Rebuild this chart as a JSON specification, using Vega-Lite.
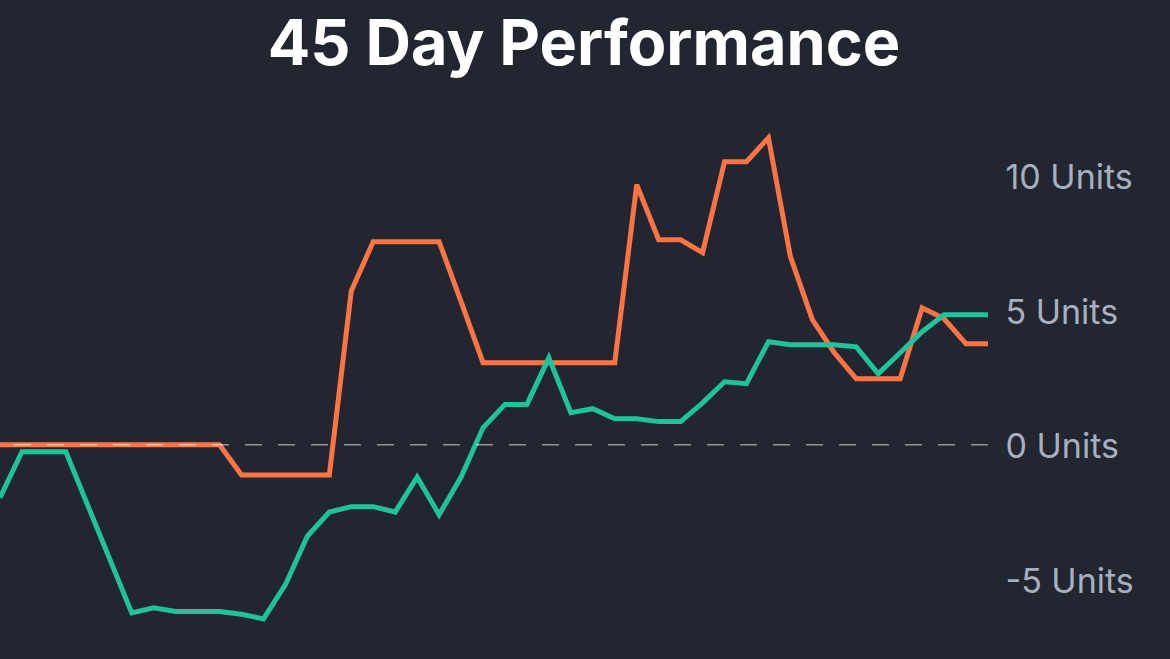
{
  "$schema": "https://vega.github.io/schema/vega-lite/v6.json",
  "width": 988,
  "height": 565,
  "autosize": {"type": "none"},
  "padding": {"left": 0, "top": 95, "right": 182, "bottom": 0},
  "background": "#222631",
  "title": {
    "text": "45 Day Performance",
    "font": "Inter",
    "fontWeight": 700,
    "fontSize": 63,
    "color": "#ffffff",
    "anchor": "middle",
    "dx": 90,
    "dy": 61,
    "offset": 28,
    "baseline": "alphabetic"
  },
  "config": {
    "view": {"stroke": null},
    "axis": {"grid": false, "domain": false, "ticks": false}
  },
  "datasets": {
    "perf": [
      {"day": 0, "series": "A", "value": 0}, {"day": 1, "series": "A", "value": 0}, {"day": 2, "series": "A", "value": 0},
      {"day": 3, "series": "A", "value": 0}, {"day": 4, "series": "A", "value": 0}, {"day": 5, "series": "A", "value": 0},
      {"day": 6, "series": "A", "value": 0}, {"day": 7, "series": "A", "value": 0}, {"day": 8, "series": "A", "value": 0},
      {"day": 9, "series": "A", "value": 0}, {"day": 10, "series": "A", "value": 0}, {"day": 11, "series": "A", "value": -1.12},
      {"day": 12, "series": "A", "value": -1.12}, {"day": 13, "series": "A", "value": -1.12}, {"day": 14, "series": "A", "value": -1.12},
      {"day": 15, "series": "A", "value": -1.12}, {"day": 16, "series": "A", "value": 5.72}, {"day": 17, "series": "A", "value": 7.55},
      {"day": 18, "series": "A", "value": 7.55}, {"day": 19, "series": "A", "value": 7.55}, {"day": 20, "series": "A", "value": 7.55},
      {"day": 21, "series": "A", "value": 5.32}, {"day": 22, "series": "A", "value": 3.05}, {"day": 23, "series": "A", "value": 3.05},
      {"day": 24, "series": "A", "value": 3.05}, {"day": 25, "series": "A", "value": 3.05}, {"day": 26, "series": "A", "value": 3.05},
      {"day": 27, "series": "A", "value": 3.05}, {"day": 28, "series": "A", "value": 3.05}, {"day": 29, "series": "A", "value": 9.67},
      {"day": 30, "series": "A", "value": 7.62}, {"day": 31, "series": "A", "value": 7.62}, {"day": 32, "series": "A", "value": 7.14},
      {"day": 33, "series": "A", "value": 10.52}, {"day": 34, "series": "A", "value": 10.52}, {"day": 35, "series": "A", "value": 11.41},
      {"day": 36, "series": "A", "value": 6.99}, {"day": 37, "series": "A", "value": 4.65}, {"day": 38, "series": "A", "value": 3.42},
      {"day": 39, "series": "A", "value": 2.45}, {"day": 40, "series": "A", "value": 2.45}, {"day": 41, "series": "A", "value": 2.45},
      {"day": 42, "series": "A", "value": 5.09}, {"day": 43, "series": "A", "value": 4.68}, {"day": 44, "series": "A", "value": 3.75},
      {"day": 45, "series": "A", "value": 3.75},
      {"day": 0, "series": "B", "value": -1.97}, {"day": 1, "series": "B", "value": -0.26}, {"day": 2, "series": "B", "value": -0.26},
      {"day": 3, "series": "B", "value": -0.26}, {"day": 4, "series": "B", "value": -2.26}, {"day": 5, "series": "B", "value": -4.25},
      {"day": 6, "series": "B", "value": -6.25}, {"day": 7, "series": "B", "value": -6.06}, {"day": 8, "series": "B", "value": -6.2},
      {"day": 9, "series": "B", "value": -6.2}, {"day": 10, "series": "B", "value": -6.2}, {"day": 11, "series": "B", "value": -6.3},
      {"day": 12, "series": "B", "value": -6.47}, {"day": 13, "series": "B", "value": -5.2}, {"day": 14, "series": "B", "value": -3.4},
      {"day": 15, "series": "B", "value": -2.5}, {"day": 16, "series": "B", "value": -2.3}, {"day": 17, "series": "B", "value": -2.3},
      {"day": 18, "series": "B", "value": -2.5}, {"day": 19, "series": "B", "value": -1.2}, {"day": 20, "series": "B", "value": -2.6},
      {"day": 21, "series": "B", "value": -1.2}, {"day": 22, "series": "B", "value": 0.63}, {"day": 23, "series": "B", "value": 1.5},
      {"day": 24, "series": "B", "value": 1.5}, {"day": 25, "series": "B", "value": 3.23}, {"day": 26, "series": "B", "value": 1.19},
      {"day": 27, "series": "B", "value": 1.34}, {"day": 28, "series": "B", "value": 0.97}, {"day": 29, "series": "B", "value": 0.97},
      {"day": 30, "series": "B", "value": 0.86}, {"day": 31, "series": "B", "value": 0.86}, {"day": 32, "series": "B", "value": 1.56},
      {"day": 33, "series": "B", "value": 2.34}, {"day": 34, "series": "B", "value": 2.27}, {"day": 35, "series": "B", "value": 3.83},
      {"day": 36, "series": "B", "value": 3.72}, {"day": 37, "series": "B", "value": 3.72}, {"day": 38, "series": "B", "value": 3.72},
      {"day": 39, "series": "B", "value": 3.64}, {"day": 40, "series": "B", "value": 2.64}, {"day": 41, "series": "B", "value": 3.42},
      {"day": 42, "series": "B", "value": 4.2}, {"day": 43, "series": "B", "value": 4.83}, {"day": 44, "series": "B", "value": 4.83},
      {"day": 45, "series": "B", "value": 4.83}
    ],
    "zero": [{"value": 0}]
  },
  "layer": [
    {
      "data": {"name": "perf"},
      "mark": {"type": "line", "strokeWidth": 5, "strokeJoin": "miter", "clip": true},
      "encoding": {
        "x": {"field": "day", "type": "quantitative", "scale": {"domain": [0, 45], "nice": false, "zero": false}, "axis": null},
        "y": {
          "field": "value", "type": "quantitative",
          "scale": {"domain": [-8, 13], "nice": false, "zero": false},
          "axis": {
            "orient": "right",
            "values": [-5, 0, 5, 10],
            "title": null,
            "tickSize": 0,
            "labelPadding": 17,
            "labelFont": "Inter",
            "labelFontSize": 34,
            "labelColor": "#a8b0bf",
            "labelBaseline": "middle",
            "labelOffset": 3,
            "labelExpr": "datum.value + ' Units'"
          }
        },
        "color": {"field": "series", "type": "nominal", "scale": {"domain": ["A", "B"], "range": ["#ff7444", "#20c29b"]}, "legend": null}
      }
    },
    {
      "data": {"name": "zero"},
      "mark": {"type": "rule", "color": "#ffffff", "opacity": 0.5, "strokeWidth": 1.5, "strokeDash": [17, 16]},
      "encoding": {"y": {"field": "value", "type": "quantitative"}}
    }
  ]
}
